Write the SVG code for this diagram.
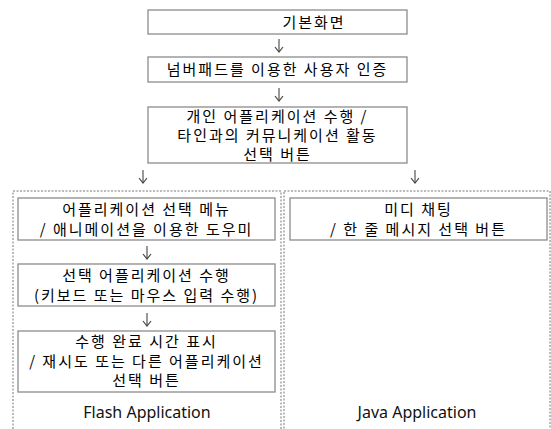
<svg xmlns="http://www.w3.org/2000/svg" width="551" height="429" viewBox="0 0 551 429">
<defs>
<marker id="ah" markerWidth="10" markerHeight="10" refX="8" refY="5" orient="auto" markerUnits="userSpaceOnUse" viewBox="0 0 10 10">
<path d="M3,1 L8,5 L3,9" fill="none" stroke="#444" stroke-width="1.2"/>
</marker>
<style>
.box{fill:#fff;stroke:#8c8c8c;stroke-width:1.3}
.grp{fill:none;stroke:#777;stroke-width:1;stroke-dasharray:2,1.5}
.t{font-family:"Noto Sans CJK KR","Noto Sans",sans-serif;font-size:15px;letter-spacing:2px;fill:#000;text-anchor:middle}
.l{font-family:"Noto Sans","Open Sans",sans-serif;font-size:16px;fill:#111;text-anchor:middle}
.c{fill:none;stroke:#444;stroke-width:1.1}
</style>
</defs>
<rect width="551" height="429" fill="#fff"/>
<g id="flash-group">
<rect class="grp" x="13" y="191" width="268" height="250"/>
<text class="l" x="147" y="418">Flash Application</text>
</g>
<g id="java-group">
<rect class="grp" x="284" y="191" width="266" height="250"/>
<text class="l" x="417" y="418">Java Application</text>
</g>
<g id="n1">
<rect class="box" x="148" y="10" width="259" height="24"/>
<text class="t" x="314" y="28">기본화면</text>
</g>
<g id="n2">
<rect class="box" x="148" y="57" width="259" height="25"/>
<text class="t" x="277.5" y="75">넘버패드를 이용한 사용자 인증</text>
</g>
<g id="n3">
<rect class="box" x="148" y="107" width="259" height="56"/>
<text class="t" x="277.5" y="122">개인 어플리케이션 수행 /</text>
<text class="t" x="277.5" y="141">타인과의 커뮤니케이션 활동</text>
<text class="t" x="277.5" y="160">선택 버튼</text>
</g>
<g id="nA">
<rect class="box" x="18" y="198" width="257" height="42"/>
<text class="t" x="146.5" y="215">어플리케이션 선택 메뉴</text>
<text class="t" x="146.5" y="234.5">/ 애니메이션을 이용한 도우미</text>
</g>
<g id="nB">
<rect class="box" x="18" y="264" width="257" height="42"/>
<text class="t" x="146.5" y="281">선택 어플리케이션 수행</text>
<text class="t" x="146.5" y="300.5">(키보드 또는 마우스 입력 수행)</text>
</g>
<g id="nC">
<rect class="box" x="18" y="331" width="257" height="61"/>
<text class="t" x="146.5" y="347">수행 완료 시간 표시</text>
<text class="t" x="146.5" y="366.5">/ 재시도 또는 다른 어플리케이션</text>
<text class="t" x="146.5" y="386">선택 버튼</text>
</g>
<g id="nD">
<rect class="box" x="290" y="198" width="257" height="42"/>
<text class="t" x="418.5" y="215">미디 채팅</text>
<text class="t" x="418.5" y="234.5">/ 한 줄 메시지 선택 버튼</text>
</g>
<g id="connectors">
<path class="c" d="M279,39 V52" marker-end="url(#ah)"/>
<path class="c" d="M279,88 V101" marker-end="url(#ah)"/>
<path class="c" d="M143,170 V183" marker-end="url(#ah)"/>
<path class="c" d="M415,170 V183" marker-end="url(#ah)"/>
<path class="c" d="M147,246 V259" marker-end="url(#ah)"/>
<path class="c" d="M147,313 V326" marker-end="url(#ah)"/>
</g>
</svg>
